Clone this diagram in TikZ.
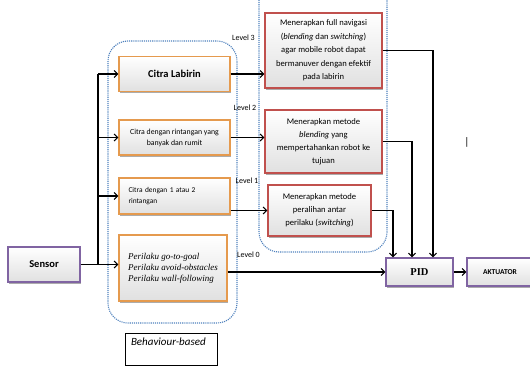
\documentclass[tikz,border=0pt]{standalone}
\usepackage{fontspec}
\setmainfont{Carlito}
\newfontfamily\serifface{Liberation Serif}
\usetikzlibrary{arrows.meta,shadows}

\definecolor{orangeline}{HTML}{E59A4E}
\definecolor{redline}{HTML}{C0504D}
\definecolor{purpleline}{HTML}{8064A2}
\definecolor{blueline}{HTML}{4F81BD}

\begin{document}
\begin{tikzpicture}[x=1pt,y=-1pt,
                    box/.style={draw,line width=1.3pt,top color=white,bottom color=black!12,
                                drop shadow={shadow xshift=1.2pt,shadow yshift=-1.6pt,opacity=0.65},
                                inner sep=2pt,align=center},
                    citrabox/.style={box,draw=orangeline,minimum width=111pt},
                    metodebox/.style={box,draw=redline,minimum width=117pt},
                    unitbox/.style={box,draw=purpleline,minimum height=28pt},
                    region/.style={draw=blueline,line width=1.1pt,densely dotted,rounded corners=20pt},
                    levellabel/.style={font=\fontsize{8}{9}\selectfont,inner sep=0pt},
                    link/.style={line width=1.1pt,-{Straight Barb[length=3.5pt,width=7pt]}},
                    wire/.style={line width=1.1pt}]
    \clip (0,0) rectangle (530,367);
    % daerah bertitik
    \draw[region] (108,41) rectangle (237,323);
    \draw[region] (259,-20) rectangle (387,252);

    % blok kiri
    \node (sensor) at (44,264.5) [unitbox,minimum width=72pt,minimum height=35pt,
                                  font=\fontsize{10.5}{12}\selectfont\bfseries] {Sensor};
    \node (citra) at (174.5,74) [citrabox,minimum height=35pt,font=\fontsize{10.5}{12}\selectfont\bfseries] {Citra Labirin};
    \node (rintang) at (174.5,137.5) [citrabox,minimum height=35pt,font=\fontsize{7.8}{11}\selectfont]
        {Citra dengan rintangan yang\\ banyak dan rumit};
    \node (satudua) at (174.5,196) [citrabox,minimum height=36pt,text width=92pt,align=left,
                                    font=\fontsize{7.4}{11.5}\selectfont]
        {Citra dengan 1 atau 2\\ rintangan};
    \node (perilaku) at (173,268) [citrabox,minimum width=108pt,minimum height=66pt,align=left,
                                   font=\serifface\itshape\fontsize{9}{11}\selectfont]
        {Perilaku go-to-goal\\ Perilaku avoid-obstacles\\ Perilaku wall-following};
    \node (behav) at (171,349) [draw,line width=0.5pt,minimum width=92pt,text width=80pt,align=left,
                                inner ysep=4pt,text height=8pt,text depth=16pt,
                                font=\itshape\fontsize{11}{12}\selectfont] {Behaviour-based};

    % blok kanan
    \node (navi) at (323.5,50.5) [metodebox,minimum height=75pt,font=\fontsize{8.6}{13.5}\selectfont]
        {Menerapkan full navigasi\\ (\textit{blending} dan \textit{switching})\\ agar mobile robot dapat\\
         bermanuver dengan efektif\\ pada labirin};
    \node (blend) at (323.5,141.5) [metodebox,minimum height=63pt,font=\fontsize{8.6}{13}\selectfont]
        {Menerapkan metode\\ \textit{blending} yang\\ mempertahankan robot ke\\ tujuan};
    \node (switch) at (319.5,210.5) [metodebox,minimum width=103pt,minimum height=51pt,
                                     font=\fontsize{8.6}{13}\selectfont]
        {Menerapkan metode\\ peralihan antar\\ perilaku (\textit{switching})};
    \node (pid) at (419.5,272) [unitbox,minimum width=67pt,font=\serifface\bfseries\fontsize{10.5}{12}\selectfont] {PID};
    \node (aktuator) at (500,272) [unitbox,minimum width=66pt,font=\fontsize{7.5}{9}\selectfont\bfseries] {AKTUATOR};
    \node (kursor) at (467,142) [font=\fontsize{11}{12}\selectfont,inner sep=0pt] {|};

    % label level
    \node (lv3) at (243.5,38) [levellabel] {Level 3};
    \node (lv2) at (245,108) [levellabel] {Level 2};
    \node (lv1) at (247,181) [levellabel] {Level 1};
    \node (lv0) at (248.5,255) [levellabel] {Level 0};

    % sensor ke blok kiri
    \coordinate (bus) at (98,0);
    \draw[link] (sensor.east) -- (perilaku.west |- sensor.east);
    \draw[wire] (bus |- sensor.east) -- (bus |- citra.west);
    \draw[link] (bus |- citra.west) -- (citra.west);
    \draw[link] (bus |- rintang.west) -- (rintang.west);
    \draw[link] (bus |- satudua.west) -- (satudua.west);

    % blok kiri ke blok kanan
    \draw[link] (citra.east) -- (navi.west |- citra.east);
    \draw[link] (rintang.east) -- (blend.west |- rintang.east);
    \draw[link] (satudua.east |- switch.west) -- (switch.west);
    \draw[link] (perilaku.east |- pid.west) -- (pid.west);

    % blok kanan ke PID
    \draw[link] (navi.east) -| ([xshift=13.5pt]pid.north);
    \draw[link] (blend.east) -| ([xshift=-7.5pt]pid.north);
    \draw[link] (switch.east) -| ([xshift=-26.5pt]pid.north);
    \draw[link] (pid.east) -- (aktuator.west);
\end{tikzpicture}
\end{document}
